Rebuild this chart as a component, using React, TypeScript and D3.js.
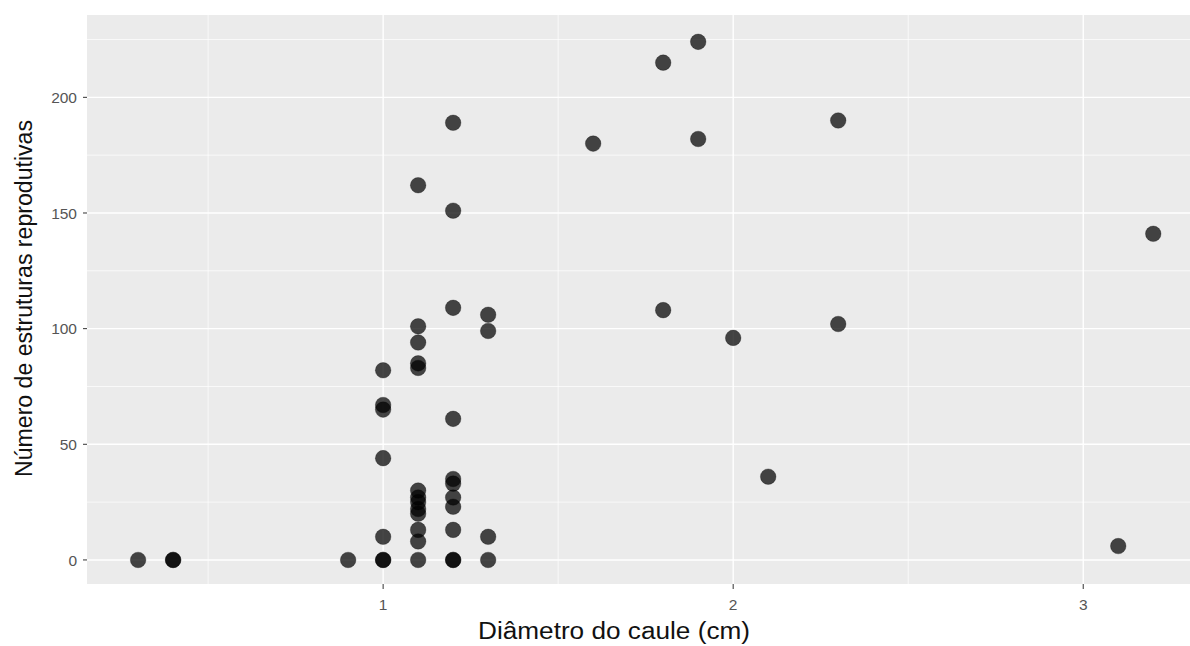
import React from "react";
import * as d3 from "d3";

// Stem diameter (cm) and number of reproductive structures per plant
const diametro = [
  0.3, 0.4, 0.4, 0.9,
  1.0, 1.0, 1.0, 1.0, 1.0, 1.0, 1.0,
  1.1, 1.1, 1.1, 1.1, 1.1, 1.1, 1.1, 1.1, 1.1, 1.1, 1.1, 1.1, 1.1,
  1.2, 1.2, 1.2, 1.2, 1.2, 1.2, 1.2, 1.2, 1.2, 1.2, 1.2,
  1.3, 1.3, 1.3, 1.3,
  1.6, 1.8, 1.8, 1.9, 1.9, 2.0, 2.1, 2.3, 2.3, 3.1, 3.2,
];
const estruturas = [
  0, 0, 0, 0,
  0, 0, 10, 44, 65, 67, 82,
  0, 8, 13, 20, 22, 25, 27, 30, 83, 85, 94, 101, 162,
  0, 0, 13, 23, 27, 33, 35, 61, 109, 151, 189,
  0, 10, 99, 106,
  180, 108, 215, 182, 224, 96, 36, 102, 190, 6, 141,
];

const xMajor = [1, 2, 3];
const xMinor = [0.5, 1.5, 2.5];
const yMajor = [0, 50, 100, 150, 200];
const yMinor = [25, 75, 125, 175, 225];

const W = 1190;
const H = 646;
const panel = { left: 87, right: 1204, top: 15, bottom: 584 };

export default function App() {
  const x = d3.scaleLinear().domain([0.154, 3.345]).range([panel.left, panel.right]);
  const y = d3.scaleLinear().domain([-10.4, 235.6]).range([panel.bottom, panel.top]);
  const pts = d3.zip(diametro, estruturas);
  const font = "'Liberation Sans', Arial, sans-serif";

  return (
    <div style={{ position: "absolute", left: 0, top: 0 }}>
      <svg width={W} height={H} style={{ display: "block", background: "#fff" }}>
        <rect
          x={panel.left}
          y={panel.top}
          width={panel.right - panel.left}
          height={panel.bottom - panel.top}
          fill="#EBEBEB"
        />
        {yMinor.map((v) => (
          <line key={"ym" + v} x1={panel.left} x2={panel.right} y1={y(v)} y2={y(v)} stroke="#fff" strokeWidth={0.7} />
        ))}
        {xMinor.map((v) => (
          <line key={"xm" + v} x1={x(v)} x2={x(v)} y1={panel.top} y2={panel.bottom} stroke="#fff" strokeWidth={0.7} />
        ))}
        {yMajor.map((v) => (
          <line key={"yM" + v} x1={panel.left} x2={panel.right} y1={y(v)} y2={y(v)} stroke="#fff" strokeWidth={1.4} />
        ))}
        {xMajor.map((v) => (
          <line key={"xM" + v} x1={x(v)} x2={x(v)} y1={panel.top} y2={panel.bottom} stroke="#fff" strokeWidth={1.4} />
        ))}
        {pts.map(([dx, dy], i) => (
          <circle
            key={i}
            cx={x(dx)}
            cy={y(dy)}
            r={7.8}
            fill="#000"
            fillOpacity={0.72}
            stroke="#000"
            strokeOpacity={0.35}
            strokeWidth={0.8}
          />
        ))}
        {/* y axis ticks and labels */}
        {yMajor.map((v) => (
          <g key={"yt" + v}>
            <line x1={panel.left - 4} x2={panel.left} y1={y(v)} y2={y(v)} stroke="#333" strokeWidth={1} />
            <text
              x={panel.left - 10}
              y={y(v)}
              dy="0.36em"
              textAnchor="end"
              fontFamily={font}
              fontSize={15.5}
              fill="#555"
            >
              {v}
            </text>
          </g>
        ))}
        {/* x axis ticks and labels */}
        {xMajor.map((v) => (
          <g key={"xt" + v}>
            <line x1={x(v)} x2={x(v)} y1={panel.bottom} y2={panel.bottom + 5} stroke="#333" strokeWidth={1} />
            <text x={x(v)} y={610} textAnchor="middle" fontFamily={font} fontSize={15.5} fill="#555">
              {v}
            </text>
          </g>
        ))}
        <text
          x={614}
          y={639}
          textAnchor="middle"
          fontFamily={font}
          fontSize={23}
          textLength={272}
          lengthAdjust="spacingAndGlyphs"
          fill="#111"
        >
          Diâmetro do caule (cm)
        </text>
        <text
          transform={`translate(32, 298.5) rotate(-90)`}
          textAnchor="middle"
          fontFamily={font}
          fontSize={23}
          textLength={357}
          lengthAdjust="spacingAndGlyphs"
          fill="#111"
        >
          Número de estruturas reprodutivas
        </text>
      </svg>
    </div>
  );
}
